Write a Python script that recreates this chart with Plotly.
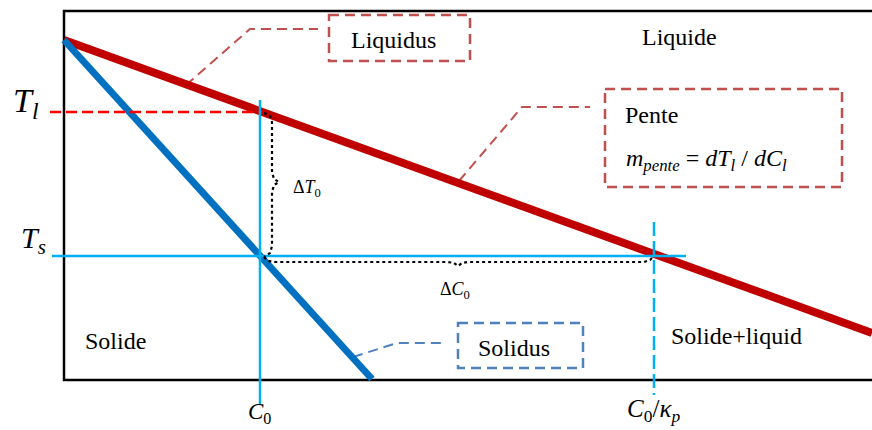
import plotly.graph_objects as go

# Schematic phase diagram coordinates (composition C across, temperature T downwards)
frame_C = [872, 64, 64, 872]
frame_T = [11, 11, 380, 380]

liquidus_C = [64, 872]
liquidus_T = [40, 333]

solidus_C = [64, 372]
solidus_T = [40, 379]

C0 = 260
C0_kp = 654
T_l = 112
T_s = 256

# Guide line extents
Tl_guide_C = [50, 262]
Ts_guide_C = [52, 686]
C0_guide_T = [100, 405]
C0kp_guide_T = [222, 395]

# Dotted braces marking the undercooling and the concentration gap
dT_brace_C = [264, 270, 272, 272, 274, 279, 274, 272, 272, 270, 264]
dT_brace_T = [113, 116, 122, 172, 179, 182, 185, 192, 246, 253, 257]
dC_brace_C = [264, 268, 276, 448, 454, 458, 462, 468, 644, 650, 653]
dC_brace_T = [257, 261, 262, 262, 263, 266, 263, 262, 262, 260, 257]

# Callout leaders and boxes
liq_leader_C = [186, 250, 318]
liq_leader_T = [85, 29, 29]
pente_leader_C = [459, 522, 590]
pente_leader_T = [181, 107, 107]
sol_leader_C = [353, 397, 444]
sol_leader_T = [357, 343, 343]

liq_box = (329, 15, 470, 61)
pente_box = (605, 89, 842, 187)
sol_box = (458, 323, 583, 368)

RED = "#C00000"
BLUE = "#0070C0"
CYAN = "#00B0F0"
CALLOUT_RED = "#C0504D"
CALLOUT_BLUE = "#4F81BD"
FONT = "Times New Roman, serif"

fig = go.Figure()


def line(x, y, color, width, dash="solid"):
    fig.add_trace(go.Scatter(x=x, y=y, mode="lines", hoverinfo="skip",
                             line=dict(color=color, width=width, dash=dash)))


# Frame (open on the right)
line(frame_C, frame_T, "black", 2.5)

# Callout leaders
line(liq_leader_C, liq_leader_T, CALLOUT_RED, 2, "10px,6px")
line(pente_leader_C, pente_leader_T, CALLOUT_RED, 2, "10px,6px")
line(sol_leader_C, sol_leader_T, CALLOUT_BLUE, 2, "10px,6px")

# Liquidus and solidus
line(liquidus_C, liquidus_T, RED, 8)
line(solidus_C, solidus_T, BLUE, 7)

# Guides
line(Tl_guide_C, [T_l, T_l], "#FF0000", 2.5, "11px,5px")
line(Ts_guide_C, [T_s, T_s], CYAN, 2.5)
line([C0, C0], C0_guide_T, CYAN, 2.5)
line([C0_kp, C0_kp], C0kp_guide_T, CYAN, 2.5, "14px,5px")

# Braces
line(dT_brace_C, dT_brace_T, "black", 2.2, "dot")
line(dC_brace_C, dC_brace_T, "black", 2.2, "dot")

for (x0, y0, x1, y1), col in [(liq_box, CALLOUT_RED), (pente_box, CALLOUT_RED),
                              (sol_box, CALLOUT_BLUE)]:
    fig.add_shape(type="rect", x0=x0, y0=y0, x1=x1, y1=y1, xref="x", yref="y",
                  line=dict(color=col, width=2.5, dash="10px,6px"),
                  fillcolor="rgba(0,0,0,0)")


def text(x, y, s, size, xanchor="center"):
    fig.add_annotation(x=x, y=y, text=s, showarrow=False, xref="x", yref="y",
                       xanchor=xanchor, yanchor="middle",
                       font=dict(family=FONT, size=size, color="black"))


text(393, 40, "Liquidus", 24)
text(679, 37, "Liquide", 24)
text(623, 115, "Pente", 24, "left")
text(624, 160, "<i>m</i><sub><i>pente</i></sub> = <i>dT</i><sub><i>l</i></sub>"
     " / <i>dC</i><sub><i>l</i></sub>", 24, "left")
text(115, 341, "Solide", 24)
text(514, 348, "Solidus", 24)
text(736, 336, "Solide+liquid", 24)
text(291, 188, "Δ<i>T</i><sub>0</sub>", 18, "left")
text(455, 290, "Δ<i>C</i><sub>0</sub>", 18)
text(26, 103, "<i>T</i><sub><i>l</i></sub>", 34)
text(33, 240, "<i>T</i><sub><i>s</i></sub>", 30)
text(259, 413, "<i>C</i><sub>0</sub>", 23)
text(653, 410, "<i>C</i><sub>0</sub>/<i>κ</i><sub><i>p</i></sub>", 25)

fig.update_layout(
    width=872, height=430,
    margin=dict(l=0, r=0, t=0, b=0),
    font=dict(family=FONT),
    paper_bgcolor="white", plot_bgcolor="white",
    showlegend=False,
    xaxis=dict(range=[0, 872], visible=False, fixedrange=True),
    yaxis=dict(range=[430, 0], visible=False, fixedrange=True),
)

fig.write_html("out.html")
